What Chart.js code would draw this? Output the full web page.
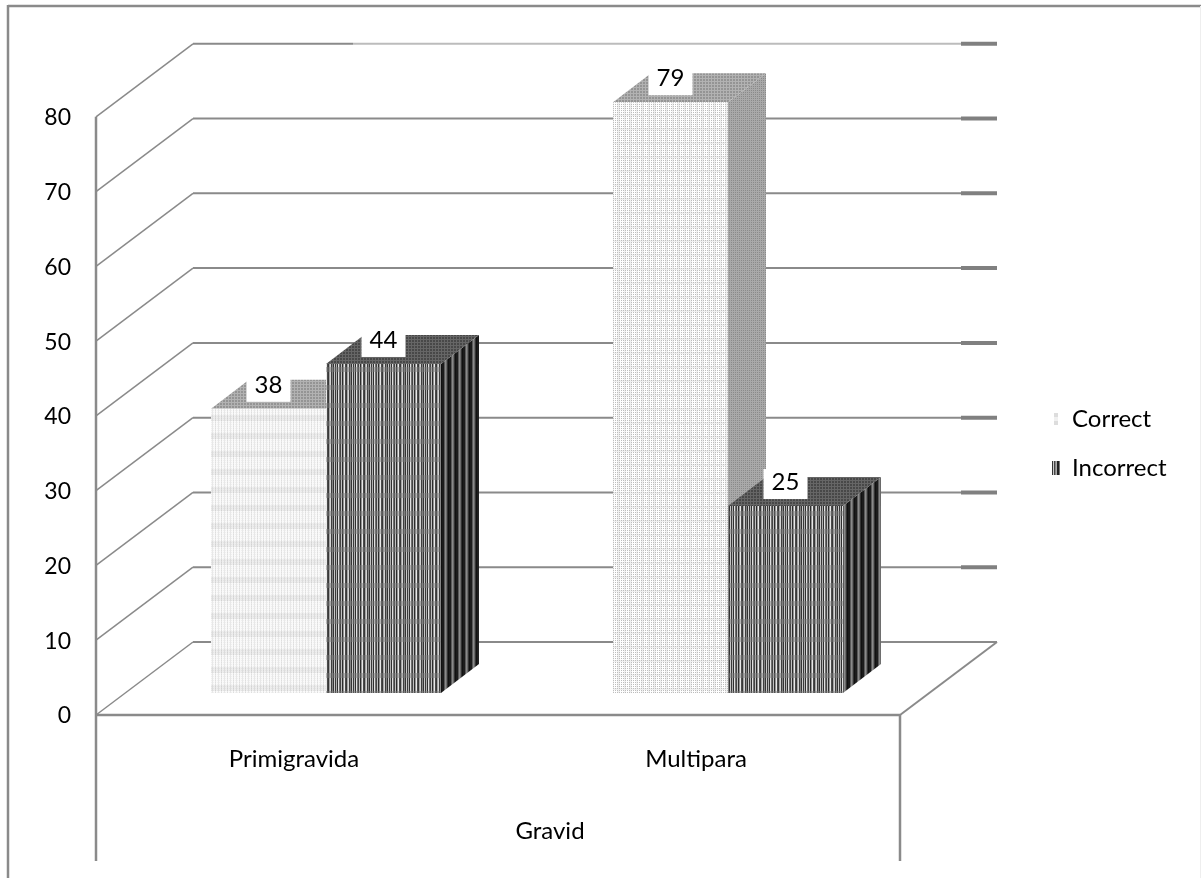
<!DOCTYPE html>
<html lang="en">
<head>
    <meta charset="UTF-8">
    <title>Gravid</title>
    <script src="https://cdn.jsdelivr.net/npm/chart.js"></script>
    <style>
        body { margin: 0; background: #fff; }
        canvas { display: block; }
    </style>
</head>
<body>
    <canvas id="gravidChart" width="1201" height="878"></canvas>

    <script>
        const categories = ['Primigravida', 'Multipara'];
        const correctValues = [38, 79];
        const incorrectValues = [44, 25];
        const seriesNames = ['Correct', 'Incorrect'];
        const yTicks = [0, 10, 20, 30, 40, 50, 60, 70, 80];
        const xTitle = 'Gravid';

        const fontName = 'Lato, "Open Sans", sans-serif';
        const lineGrey = '#8a8a8a';
        // 3D look: depth of the walls and of the bars, and where the bars stand on the floor
        const wallDx = 97, wallDy = -73;
        const barDx = 38, barDy = -29;
        const barShiftX = 29, barShiftY = -22;

        // small tile -> canvas, draw(ctx) paints one repeat
        function makeTile(w, h, draw) {
            const c = document.createElement('canvas');
            c.width = w;
            c.height = h;
            draw(c.getContext('2d'));
            return c;
        }

        function dots(bg, fg, w, h, step) {
            return makeTile(w, h, g => {
                g.fillStyle = bg;
                g.fillRect(0, 0, w, h);
                g.fillStyle = fg;
                for (let x = 0; x < w; x += step) {
                    for (let y = 0; y < h; y += step) g.fillRect(x, y, 1, 1);
                }
            });
        }

        function stripes(cols, h) {
            return makeTile(cols.length, h, g => {
                cols.forEach((col, x) => {
                    g.fillStyle = col;
                    g.fillRect(x, 0, 1, h);
                });
            });
        }

        const ctx = document.getElementById('gravidChart').getContext('2d');

        // washed out weave of the left bar
        const correctSoft = makeTile(12, 18, g => {
            for (let x = 0; x < 12; x++) {
                for (let y = 0; y < 18; y++) {
                    let v = 250;
                    if (y >= 5 && y < 11) v -= 12;
                    if (x % 3 === 0) v -= 18;
                    if (y % 2 === 0 && x % 2 === 0) v -= 10;
                    g.fillStyle = 'rgb(' + v + ',' + v + ',' + v + ')';
                    g.fillRect(x, y, 1, 1);
                }
            }
        });
        // finer dots of the tall bar
        const correctDots = makeTile(12, 14, g => {
            g.fillStyle = '#ffffff';
            g.fillRect(0, 0, 12, 14);
            g.fillStyle = '#f0f0f0';
            g.fillRect(0, 0, 3, 14);
            g.fillRect(7, 0, 2, 14);
            g.fillRect(0, 10, 12, 2);
            g.fillStyle = '#bdbdbd';
            for (let x = 0; x < 12; x += 2) {
                for (let y = 0; y < 14; y += 2) g.fillRect(x, y, 1, 1);
            }
        });
        const incorrectFront = makeTile(18, 18, g => {
            const cols = ['#3a3a3a', '#b0b0b0', '#303030', '#e0e0e0', '#707070', '#444444', '#c0c0c0', '#2c2c2c',
                '#949494', '#e8e8e8', '#4c4c4c', '#383838', '#a4a4a4', '#d4d4d4', '#3e3e3e', '#848484', '#343434', '#c8c8c8'];
            cols.forEach((col, x) => {
                g.fillStyle = col;
                g.fillRect(x, 0, 1, 18);
            });
            g.fillStyle = 'rgba(125,125,125,0.45)';
            g.fillRect(0, 11, 18, 5);
        });

        const fronts = [
            [ctx.createPattern(correctSoft, 'repeat'), ctx.createPattern(correctDots, 'repeat')],
            ctx.createPattern(incorrectFront, 'repeat')
        ];
        const sides = [
            ctx.createPattern(dots('#a9a9a9', '#8a8a8a', 4, 4, 2), 'repeat'),
            ctx.createPattern(stripes(['#1c1c1c', '#1c1c1c', '#5a5a5a', '#8a8a8a', '#6a6a6a', '#333333', '#111111'], 2), 'repeat')
        ];
        const tops = [
            ctx.createPattern(dots('#b2b2b2', '#949494', 3, 3, 2), 'repeat'),
            ctx.createPattern(dots('#666666', '#484848', 3, 3, 2), 'repeat')
        ];
        const legendMarks = [
            makeTile(8, 14, g => {
                g.fillStyle = '#dddddd';
                g.fillRect(2, 1, 4, 4);
                g.fillRect(2, 9, 4, 4);
                g.fillStyle = '#f0f0f0';
                g.fillRect(2, 5, 4, 4);
            }),
            stripes(['#333333', '#cccccc', '#444444', '#888888', '#aaaaaa', '#222222', '#222222', '#777777'], 14)
        ];

        function poly(c, pts, fill) {
            c.beginPath();
            pts.forEach((p, i) => i ? c.lineTo(p[0], p[1]) : c.moveTo(p[0], p[1]));
            c.closePath();
            c.fillStyle = fill;
            c.fill();
        }

        function line(c, x1, y1, x2, y2, col, w) {
            c.beginPath();
            c.moveTo(x1, y1);
            c.lineTo(x2, y2);
            c.strokeStyle = col;
            c.lineWidth = w;
            c.stroke();
        }

        const framePlugin = {
            id: 'frame3d',
            beforeDraw(chart) {
                const c = chart.ctx;
                c.save();
                // outer chart border, no bottom edge
                line(c, 8, 6, 1201, 6, lineGrey, 2.5);
                line(c, 8, 5, 8, 878, lineGrey, 2.5);
                line(c, 1200.5, 6, 1200.5, 878, '#eeeeee', 1);
                c.restore();
            },
            beforeDatasetsDraw(chart) {
                const c = chart.ctx;
                const x = chart.scales.x, y = chart.scales.y;
                const y0 = y.getPixelForValue(0);
                const yTop = y.getPixelForValue(yTicks[yTicks.length - 1]);
                const bottom = 861;

                c.save();
                // side wall + back wall grid
                yTicks.forEach(v => {
                    const py = y.getPixelForValue(v);
                    line(c, x.left, py, x.left + wallDx, py + wallDy, lineGrey, 1.5);
                    const backX = x.left + wallDx, backY = py + wallDy;
                    if (v === 0) {
                        line(c, backX, backY, x.right + wallDx, backY, lineGrey, 2);
                        return;
                    }
                    if (v === yTicks[yTicks.length - 1]) {
                        line(c, backX, backY, backX + 160, backY, lineGrey, 2);
                        line(c, backX + 160, backY, x.right + wallDx - 36, backY, '#bcbcbc', 2);
                    } else {
                        line(c, backX, backY, x.right + wallDx - 36, backY, lineGrey, 2);
                    }
                    line(c, x.right + wallDx - 36, backY, x.right + wallDx, backY, '#808080', 4);
                });
                // floor and the box under it
                line(c, x.right, y0, x.right + wallDx, y0 + wallDy, lineGrey, 2);
                line(c, x.left, y0, x.right, y0, lineGrey, 2.5);
                line(c, x.left, yTop, x.left, bottom, lineGrey, 2.5);
                line(c, x.right, y0, x.right, bottom, lineGrey, 2.5);
                c.restore();

                // bars sit forward of the back wall, faces first, left series first
                c.save();
                c.translate(barShiftX, barShiftY);
                chart.getSortedVisibleDatasetMetas().forEach((meta, s) => {
                    meta.data.forEach(bar => {
                        const b = bar.getProps(['x', 'y', 'base', 'width']);
                        const l = b.x - b.width / 2, r = b.x + b.width / 2;
                        poly(c, [[r, b.y], [r + barDx, b.y + barDy], [r + barDx, b.base + barDy], [r, b.base]], sides[s]);
                        poly(c, [[l, b.y], [l + barDx, b.y + barDy], [r + barDx, b.y + barDy], [r, b.y]], tops[s]);
                    });
                });
            },
            afterDatasetsDraw(chart) {
                const c = chart.ctx;
                c.restore();

                // value labels on white plates, above each bar's top face
                c.save();
                c.font = '24px ' + fontName;
                c.textAlign = 'center';
                c.textBaseline = 'middle';
                chart.getSortedVisibleDatasetMetas().forEach((meta, s) => {
                    meta.data.forEach((bar, i) => {
                        const b = bar.getProps(['x', 'y']);
                        const px = b.x + barShiftX, py = b.y + barShiftY;
                        c.fillStyle = '#ffffff';
                        c.fillRect(px - 22, py - 37, 44, 30);
                        c.fillStyle = '#000000';
                        c.fillText(chart.data.datasets[s].data[i], px, py - 24);
                    });
                });
                const x = chart.scales.x;
                c.fillText(xTitle, (x.left + x.right) / 2 + 52, 831);
                c.restore();
            },
            afterLayout(chart) {
                // legend sits in the empty space right of the box
                chart.legend.left = 1027;
                chart.legend.right = 1195;
                chart.legend.top = 382;
                chart.legend.bottom = 520;
            }
        };

        new Chart(ctx, {
            type: 'bar',
            data: {
                labels: categories,
                datasets: [
                    { label: seriesNames[0], data: correctValues, backgroundColor: fronts[0], borderWidth: 0, clip: false },
                    { label: seriesNames[1], data: incorrectValues, backgroundColor: fronts[1], borderWidth: 0, clip: false }
                ]
            },
            options: {
                responsive: false,
                animation: false,
                categoryPercentage: 0.572,
                barPercentage: 1,
                layout: { padding: { left: 0, top: 42, right: 301, bottom: 0 } },
                scales: {
                    x: {
                        grid: { display: false },
                        border: { display: false },
                        ticks: { color: '#000', padding: 22, labelOffset: -3, maxRotation: 0, font: { family: fontName, size: 24 } },
                        afterFit(scale) { scale.height = 163; }
                    },
                    y: {
                        min: 0,
                        max: 90,
                        grid: { display: false },
                        border: { display: false },
                        afterBuildTicks(scale) { scale.ticks = yTicks.map(v => ({ value: v })); },
                        ticks: { color: '#000', padding: 17, labelOffset: 1, font: { family: fontName, size: 23 } },
                        afterFit(scale) { scale.width = 96; }
                    }
                },
                plugins: {
                    tooltip: { enabled: false },
                    title: { display: false },
                    legend: {
                        position: 'chartArea',
                        align: 'start',
                        labels: {
                            color: '#000',
                            font: { family: fontName, size: 24 },
                            boxWidth: 8,
                            padding: 25,
                            usePointStyle: true,
                            generateLabels: () => seriesNames.map((text, i) => ({
                                text: text,
                                datasetIndex: i,
                                pointStyle: legendMarks[i],
                                fontColor: '#000',
                                lineWidth: 0,
                                hidden: false
                            }))
                        }
                    }
                }
            },
            plugins: [framePlugin]
        });
    </script>
</body>
</html>
